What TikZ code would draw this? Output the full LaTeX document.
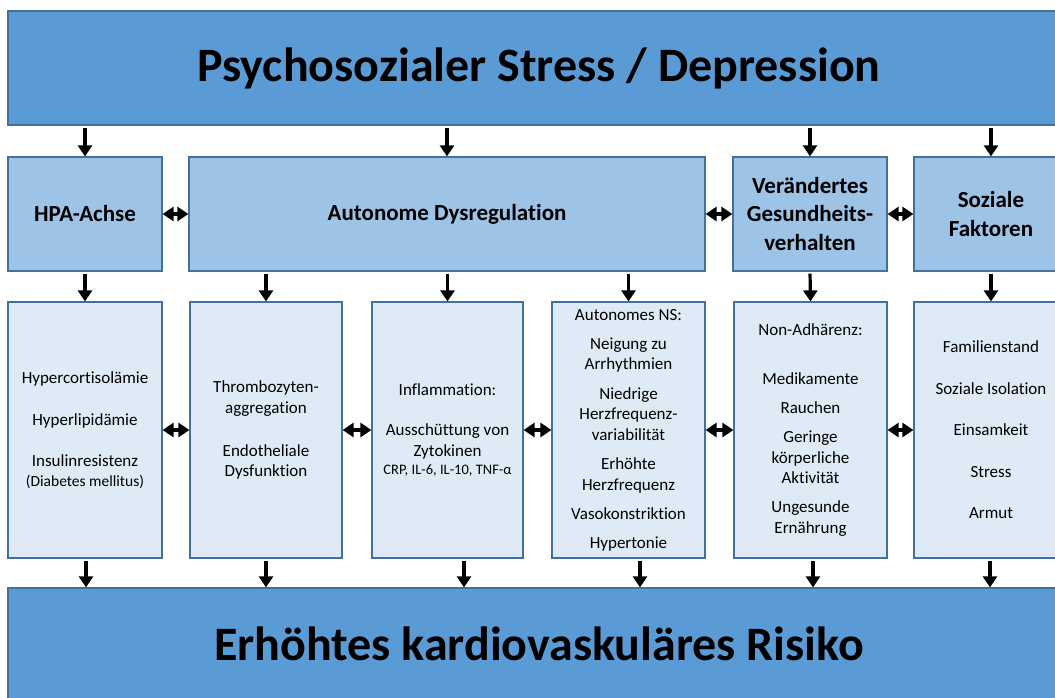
\documentclass[tikz,border=0pt]{standalone}
\usepackage{fontspec}
\setmainfont{Carlito}[Ligatures=NoCommon]
\usetikzlibrary{arrows.meta}
\definecolor{dunkelblau}{HTML}{5B9BD5}
\definecolor{mittelblau}{HTML}{9DC3E6}
\definecolor{hellblau}{HTML}{DEEBF7}
\definecolor{rand}{HTML}{41719C}

\begin{document}
\begin{tikzpicture}[x=1pt,y=-1pt,
	box/.style={draw=rand,line width=1.2pt,inner sep=0pt,align=center},
	hauptbox/.style={box,fill=dunkelblau,minimum width=1062pt,font=\fontsize{48}{56}\selectfont\bfseries},
	kopfbox/.style={box,fill=mittelblau,minimum height=114pt,font=\fontsize{23}{28.5}\selectfont\bfseries},
	inhaltbox/.style={box,fill=hellblau,minimum height=256pt,font=\fontsize{17}{20.5}\selectfont},
	pfeil/.style={-{Triangle[width=14pt,length=11pt]},line width=3.2pt,shorten <=2pt},
	doppelpfeil/.style={{Triangle[width=14pt,length=11pt]}-{Triangle[width=14pt,length=11pt]},line width=3.2pt}]

	\useasboundingbox (0,0) rectangle (1055,698);

		\node[hauptbox,minimum height=114pt] (stress) at (539,68) {Psychosozialer Stress / Depression};

		\node[kopfbox,minimum width=154pt] (hpa) at (85,214) {HPA-Achse};
		\node[kopfbox,minimum width=516pt] (ans) at (447,214) {Autonome Dysregulation};
		\node[kopfbox,minimum width=154pt] (verhalten) at (810,214) {Verändertes\\Gesundheits-\\verhalten};
		\node[kopfbox,minimum width=154pt] (sozial) at (991,214) {Soziale\\Faktoren};

		\node[inhaltbox,minimum width=154pt] (hpaeff) at (85,430) {Hypercortisolämie\\[21pt]Hyperlipidämie\\[21pt]Insulinresistenz\\[-1pt]{\fontsize{15.5}{18}\selectfont (Diabetes mellitus)}};
		\node[inhaltbox,minimum width=152pt] (thromb) at (266,430) {Thrombozyten-\\aggregation\\[22.5pt]Endotheliale\\Dysfunktion};
		\node[inhaltbox,minimum width=151pt] (inflamm) at (447.5,430) {Inflammation:\\[19.5pt]Ausschüttung von\\Zytokinen\\[-2.5pt]{\fontsize{14.5}{17}\selectfont CRP, IL-6, IL-10, TNF-α}};
		\node[inhaltbox,minimum width=153pt] (autons) at (628.5,430) {Autonomes NS:\\[8.5pt]Neigung zu\\Arrhythmien\\[9pt]Niedrige\\Herzfrequenz-\\variabilität\\[9pt]Erhöhte\\Herzfrequenz\\[9pt]Vasokonstriktion\\[8pt]Hypertonie};
		\node[inhaltbox,minimum width=153pt] (nonadh) at (810.5,430) {Non-Adhärenz:\\[28.5pt]Medikamente\\[8.5pt]Rauchen\\[8.5pt]Geringe\\körperliche\\Aktivität\\[8.5pt]Ungesunde\\Ernährung};
		\node[inhaltbox,minimum width=154pt] (faktoren) at (991,430) {Familienstand\\[21pt]Soziale Isolation\\[21pt]Einsamkeit\\[21pt]Stress\\[21pt]Armut};

		\node[hauptbox,minimum height=112pt] (risiko) at (539,644) {Erhöhtes kardiovaskuläres Risiko};

		\foreach \n in {hpa,ans,verhalten,sozial}
			\draw[pfeil] (stress.south -| \n.north) -- (\n.north);

		\draw[pfeil] (hpa.south) -- (hpaeff.north);
		\draw[pfeil] (ans.south -| thromb.north) -- (thromb.north);
		\draw[pfeil] (ans.south -| inflamm.north) -- (inflamm.north);
		\draw[pfeil] (ans.south -| autons.north) -- (autons.north);
		\draw[pfeil] (verhalten.south) -- (nonadh.north);
		\draw[pfeil] (sozial.south) -- (faktoren.north);

		\coordinate (f1) at ([xshift=1pt]hpaeff.south);
		\coordinate (f2) at (thromb.south);
		\coordinate (f3) at ([xshift=16.5pt]inflamm.south);
		\coordinate (f4) at ([xshift=11.5pt]autons.south);
		\coordinate (f5) at ([xshift=2.5pt]nonadh.south);
		\coordinate (f6) at ([xshift=-1pt]faktoren.south);
		\foreach \f in {f1,f2,f3,f4,f5,f6}
			\draw[pfeil] (\f) -- (\f |- risiko.north);

		\draw[doppelpfeil] (hpa) -- (ans);
		\draw[doppelpfeil] (ans) -- (verhalten);
		\draw[doppelpfeil] (verhalten) -- (sozial);

		\draw[doppelpfeil] (hpaeff) -- (thromb);
		\draw[doppelpfeil] (thromb) -- (inflamm);
		\draw[doppelpfeil] (inflamm) -- (autons);
		\draw[doppelpfeil] (autons) -- (nonadh);
		\draw[doppelpfeil] (nonadh) -- (faktoren);

\end{tikzpicture}
\end{document}
